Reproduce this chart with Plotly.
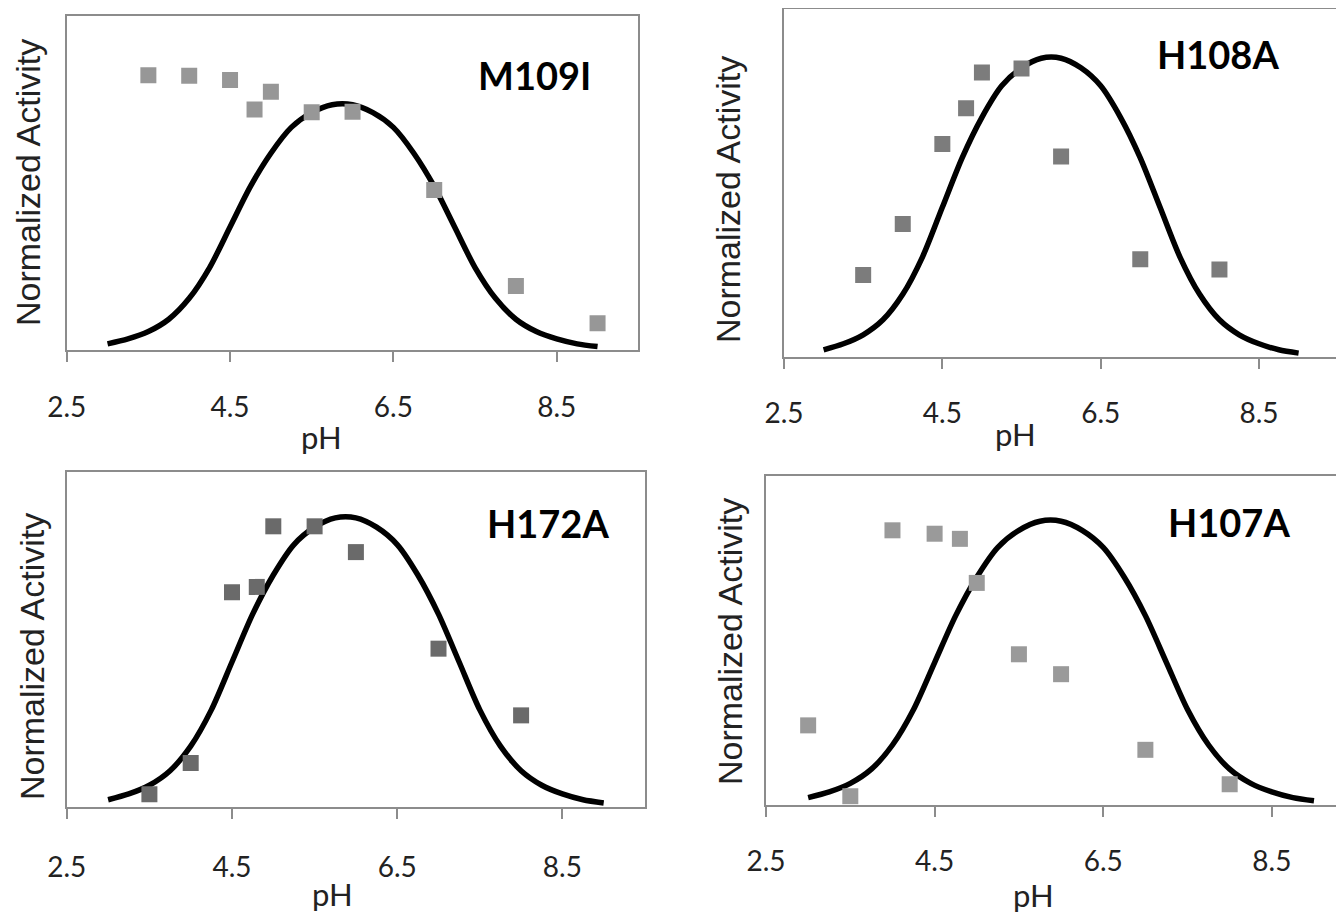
import plotly.graph_objects as go

# page body has an 8px margin: the figure is drawn 8px in, so size and
# positions are given in reference pixels and shifted by OFF
OFF = 8
W, H = 1344 - OFF, 914 - OFF

# ---------------- data ----------------
panel_names = ["M109I", "H108A", "H172A", "H107A"]

ph_M109I = [3.5, 4.0, 4.5, 4.8, 5.0, 5.5, 6.0, 7.0, 8.0, 9.0]
act_M109I = [1.117, 1.115, 1.098, 0.978, 1.050, 0.966, 0.969, 0.650, 0.260, 0.109]

ph_H108A = [3.5, 4.0, 4.5, 4.8, 5.0, 5.5, 6.0, 7.0, 8.0]
act_H108A = [0.274, 0.444, 0.711, 0.830, 0.949, 0.963, 0.669, 0.327, 0.293]

ph_H172A = [3.5, 4.0, 4.5, 4.8, 5.0, 5.5, 6.0, 7.0, 8.0]
act_H172A = [0.044, 0.152, 0.741, 0.759, 0.968, 0.968, 0.879, 0.546, 0.316]

ph_H107A = [3.0, 3.5, 4.0, 4.5, 4.8, 5.0, 5.5, 6.0, 7.0, 8.0]
act_H107A = [0.279, 0.030, 0.965, 0.953, 0.935, 0.780, 0.529, 0.459, 0.193, 0.072]

# fitted bell curve (same in every panel)
fit_ph = [3.0, 3.25, 3.5, 3.75, 4.0, 4.25, 4.5, 4.75, 5.0, 5.25, 5.5, 5.75,
          6.0, 6.25, 6.5, 6.75, 7.0, 7.25, 7.5, 7.75, 8.0, 8.25, 8.5, 8.75, 9.0]
fit_act = [0.025, 0.045, 0.075, 0.125, 0.210, 0.335, 0.500, 0.665, 0.800, 0.905,
           0.965, 0.997, 0.997, 0.965, 0.905, 0.800, 0.665, 0.500, 0.335, 0.210,
           0.125, 0.075, 0.045, 0.025, 0.014]

tick_vals = [2.5, 4.5, 6.5, 8.5]
tick_text = ["2.5", "4.5", "6.5", "8.5"]
x_title = "pH"
y_title = "Normalized Activity"

series_ph = [ph_M109I, ph_H108A, ph_H172A, ph_H107A]
series_act = [act_M109I, act_H108A, act_H172A, act_H107A]

# ---------------- layout / style (reference pixel geometry) ----------------
boxes = [
    dict(l=66.7, r=638.4, t=15.7, b=350.0, xmax=9.5, ymax=1.359),
    dict(l=784.0, r=1338.2, t=9.3, b=357.3, xmax=9.5, ymax=1.16),
    dict(l=66.8, r=645.0, t=471.5, b=807.0, xmax=9.5, ymax=1.157),
    dict(l=766.0, r=1344.0, t=476.0, b=804.7, xmax=9.356, ymax=1.156),
]
marker_colors = ["#979797", "#7c7c7c", "#6a6a6a", "#9a9a9a"]
standoffs = [21, 20, 24, 21]
title_pos = [(534, 75), (1218, 54), (548, 523), (1229, 522)]
xt_pos = [(321, 437), (1015, 434), (332, 894), (1033, 895)]
yt_pos = [(28, 183), (728, 200), (32, 657), (730, 642)]
mirror_y = [True, False, True, False]

AX = "#8c8c8c"


def px(x):
    return (x - OFF) / W


def py(y):
    return 1 - (y - OFF) / H


fig = go.Figure()
annotations = []
shapes = []

for i in range(4):
    n = "" if i == 0 else str(i + 1)
    b = boxes[i]
    xd = [px(b["l"]), min(px(b["r"]), 1.0)]
    yd = [py(b["b"]), py(b["t"])]

    fig.add_trace(go.Scatter(
        x=fit_ph, y=fit_act, mode="lines",
        line=dict(color="black", width=5.5, shape="spline", smoothing=0.8),
        xaxis="x" + n, yaxis="y" + n, hoverinfo="skip", showlegend=False))
    fig.add_trace(go.Scatter(
        x=series_ph[i], y=series_act[i], mode="markers",
        marker=dict(symbol="square", size=16, color=marker_colors[i], line=dict(width=0)),
        xaxis="x" + n, yaxis="y" + n, showlegend=False, name=panel_names[i]))

    fig.layout["xaxis" + n] = dict(
        domain=xd, range=[2.5, b["xmax"]], anchor="y" + n, automargin=False,
        tickvals=tick_vals, ticktext=tick_text,
        ticks="outside", ticklen=10, tickwidth=1.5, tickcolor=AX,
        showline=True, linecolor=AX, linewidth=2, mirror=True,
        showgrid=False, zeroline=False,
        tickfont=dict(family="Lato", size=28, color="#222222"),
        ticklabelstandoff=standoffs[i])
    fig.layout["yaxis" + n] = dict(
        domain=yd, range=[0, b["ymax"]], anchor="x" + n, automargin=False,
        showticklabels=False, ticks="",
        showline=True, linecolor=AX, linewidth=2, mirror=mirror_y[i],
        showgrid=False, zeroline=False)

    annotations.append(dict(
        text="<b>%s</b>" % panel_names[i], xref="paper", yref="paper",
        x=px(title_pos[i][0]), y=py(title_pos[i][1]),
        xanchor="center", yanchor="middle", showarrow=False,
        font=dict(family="Lato", size=38, color="black")))
    annotations.append(dict(
        text=x_title, xref="paper", yref="paper",
        x=px(xt_pos[i][0]), y=py(xt_pos[i][1]),
        xanchor="center", yanchor="middle", showarrow=False,
        font=dict(family="Lato", size=31, color="#222222")))
    annotations.append(dict(
        text=y_title, xref="paper", yref="paper", textangle=-90,
        x=px(yt_pos[i][0]), y=py(yt_pos[i][1]),
        xanchor="center", yanchor="middle", showarrow=False,
        font=dict(family="Liberation Sans", size=34, color="#222222")))

# partial right border of panel 2
b = boxes[1]
shapes.append(dict(type="line", xref="x2 domain", yref="y2 domain",
                   x0=1, x1=1, y0=0, y1=(b["b"] - 118) / (b["b"] - b["t"]),
                   line=dict(color=AX, width=2)))

fig.update_layout(
    template="none",
    width=W, height=H, margin=dict(l=0, r=0, t=0, b=0, pad=0, autoexpand=False),
    paper_bgcolor="white", plot_bgcolor="white",
    showlegend=False, annotations=annotations, shapes=shapes)

fig.write_html("out.html", config={"displayModeBar": False})
